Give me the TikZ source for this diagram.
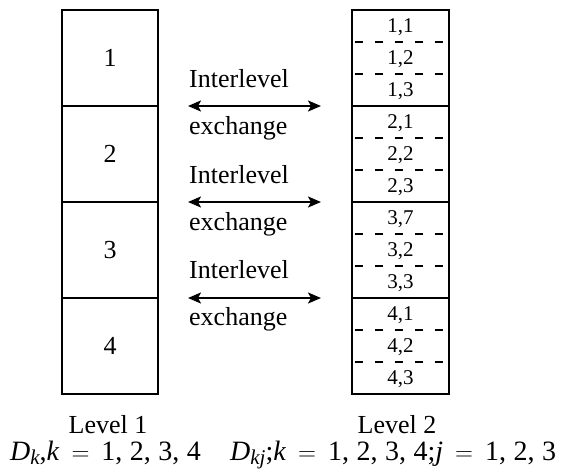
\documentclass[tikz,border=0pt]{standalone}
\usepackage{fontspec}
\setmainfont{Liberation Serif}
\usetikzlibrary{arrows.meta}

% font size helper (size = baseline skip)
\newcommand\fsz[1]{\fontsize{#1}{#1}\selectfont}
% spaced equals sign and comma for the index ranges
\newcommand\eqsign{\hspace{12pt}$=$\hspace{12pt}}
\newcommand\csep{,\hspace{7.5pt}}
% lowered italic index
\newcommand\lowidx[1]{\raisebox{-4.5pt}{\fsz{21}\itshape #1}}

\begin{document}
\begin{tikzpicture}[x=1pt,y=-1pt,
  blk/.style={draw, line width=2.2pt, minimum width=96pt, minimum height=96pt,
              inner sep=0pt, outer sep=0pt},
  cell/.style={minimum width=97pt, minimum height=32pt, inner sep=0pt,
               outer sep=0pt, font=\fsz{21}},
  celltext/.style={yshift=-1.5pt},
  sep/.style={line width=2pt, dash pattern=on 8pt off 12pt, dash phase=-3pt},
  xchg/.style={line width=2.2pt,
               {Stealth[length=13pt,width=11pt,inset=3pt]}-{Stealth[length=13pt,width=11pt,inset=3pt]},
               shorten <=30pt, shorten >=31pt},
  txt/.style={anchor=base west, inner sep=0pt, font=\fsz{26}},
  levelcap/.style={anchor=base, inner sep=0pt, font=\fsz{26}},
  formula/.style={anchor=base west, inner sep=0pt, font=\fsz{28}}]
\useasboundingbox (0,0) rectangle (566,469);

% Level 1: four data blocks
\node[blk, font=\fsz{26}] (L1) at (110,58)  {1};
\node[blk, font=\fsz{26}] (L2) at (110,154) {2};
\node[blk, font=\fsz{26}] (L3) at (110,250) {3};
\node[blk, font=\fsz{26}] (L4) at (110,346) {4};

% Level 2: four groups of three sub-blocks
\node[blk, minimum width=97pt] (G1) at (400.5,58)  {};
\node[blk, minimum width=97pt] (G2) at (400.5,154) {};
\node[blk, minimum width=97pt] (G3) at (400.5,250) {};
\node[blk, minimum width=97pt] (G4) at (400.5,346) {};

\node[cell] (c11) at (400.5,26)  {};
\node[cell] (c12) at (400.5,58)  {};
\node[cell] (c13) at (400.5,90)  {};
\node[cell] (c21) at (400.5,122) {};
\node[cell] (c22) at (400.5,154) {};
\node[cell] (c23) at (400.5,186) {};
\node[cell] (c31) at (400.5,218) {};
\node[cell] (c32) at (400.5,250) {};
\node[cell] (c33) at (400.5,282) {};
\node[cell] (c41) at (400.5,314) {};
\node[cell] (c42) at (400.5,346) {};
\node[cell] (c43) at (400.5,378) {};

\foreach \c in {c11,c12,c21,c22,c31,c32,c41,c42}
  \draw[sep] (\c.south west) -- (\c.south east);

% sub-block labels, drawn after the dashed separators
\foreach \c/\t in {c11/{1,1},c12/{1,2},c13/{1,3},c21/{2,1},c22/{2,2},c23/{2,3},
                   c31/{3,7},c32/{3,2},c33/{3,3},c41/{4,1},c42/{4,2},c43/{4,3}}
  \node[cell, celltext] (t\c) at (\c) {\t};

% interlevel exchanges
\draw[xchg] (L1.south east) -- (G1.south west);
\draw[xchg] (L2.south east) -- (G2.south west);
\draw[xchg] (L3.south east) -- (G3.south west);

\node[txt] (i1) at (189,87)  {Interlevel};
\node[txt] (e1) at (189,134) {exchange};
\node[txt] (i2) at (189,183) {Interlevel};
\node[txt] (e2) at (189,230) {exchange};
\node[txt] (i3) at (189,278) {Interlevel};
\node[txt] (e3) at (189,325) {exchange};

% captions
\node[levelcap] (lv1) at (108,433) {Level 1};
\node[levelcap] (lv2) at (397,433) {Level 2};
\node[formula] (f1) at (10,460)
  {\textit{D}\lowidx{k},\textit{k}\eqsign 1\csep 2\csep 3\csep 4};
\node[formula] (f2) at (230,460)
  {\textit{D}\lowidx{kj};\textit{k}\eqsign 1\csep 2\csep 3\csep 4;\textit{j}\eqsign 1\csep 2\csep 3};
\end{tikzpicture}
\end{document}
